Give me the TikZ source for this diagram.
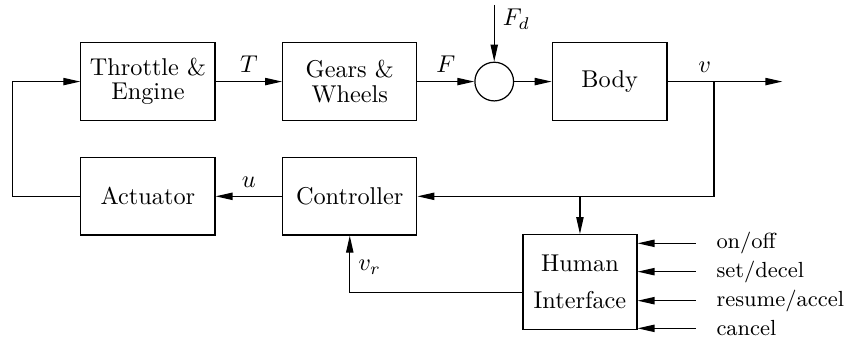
\documentclass[tikz,border=0pt]{standalone}
\usetikzlibrary{shapes.geometric, arrows.meta}
\tikzstyle{block} = [
    rectangle,
    minimum width=1.94cm,
    minimum height=1.12cm,
    align=center,
    draw=black
]
\tikzstyle{sum} = [
    circle,
    minimum size=0.56cm,
    inner sep=0pt,
    draw=black
]
\tikzstyle{input} = [right, xshift=5pt, font=\small]
\tikzstyle{arrow} = [->,>={Triangle[length=7pt,width=3pt]}]

\begin{document}
\begin{tikzpicture}[node distance=2.92cm, line width=0.5pt]
\useasboundingbox (-2.14,1.18) rectangle (10.07,-3.78);

\node (engine) [block] {Throttle \&\\[-2pt]Engine};

\node (gears) [block, right of=engine]
{Gears \&\\[-2pt]Wheels};

\node (sum) [sum, right of=gears, node distance=2.09cm] {};

\node (body) [block, right of=sum, node distance=1.67cm, minimum width=1.66cm]
{Body};

\node (actuator) [block, below of=engine, node distance=1.66cm]
{Actuator};

\node (controller) [block, below of=gears, node distance=1.66cm]
{Controller};

\node (human) [block, minimum width=1.65cm, minimum height=1.37cm]
at ([xshift=3.33cm, yshift=-1.24cm]controller) {Human\\[3pt]Interface};

\coordinate (fd) at ([yshift=1.11cm]sum.center);
\coordinate (split) at ([xshift=1.51cm]body.center);
\coordinate (out) at ([xshift=1.66cm]body.east);
\coordinate (loop) at ([xshift=-0.98cm]actuator.west);
\coordinate (vr) at ([yshift=-0.15cm]human.west);
\coordinate (onoff) at ([xshift=0.84cm, yshift=0.56cm]human.east);
\coordinate (setdecel) at ([xshift=0.84cm, yshift=0.15cm]human.east);
\coordinate (resume) at ([xshift=0.84cm, yshift=-0.27cm]human.east);
\coordinate (cancel) at ([xshift=0.84cm, yshift=-0.67cm]human.east);

\draw [arrow] (engine) -- node[above] {$T$} (gears);
\draw [arrow] (gears) -- node[above] {$F$} (sum);
\draw [arrow] (fd) -- node[right, pos=0.25] {$F_d$} (sum);
\draw [arrow] (sum) -- (body);
\draw [arrow] (body) -- node[above, pos=0.8] {$v$} (split) -- (out);
\draw [arrow] (split) |- (controller);
\draw [arrow] (human |- controller) -- (human);
\draw [arrow] (controller) -- node[above] {$u$} (actuator);
\draw [arrow] (actuator) -- (loop) |- (engine);
\draw [arrow] (vr) -| node[right, pos=0.72] {$v_r$} (controller);

\draw [arrow] (onoff) node[input] {on/off} -- (onoff -| human.east);
\draw [arrow] (setdecel) node[input] {set/decel} -- (setdecel -| human.east);
\draw [arrow] (resume) node[input] {resume/accel} -- (resume -| human.east);
\draw [arrow] (cancel) node[input] {cancel} -- (cancel -| human.east);

\end{tikzpicture}
\end{document}
